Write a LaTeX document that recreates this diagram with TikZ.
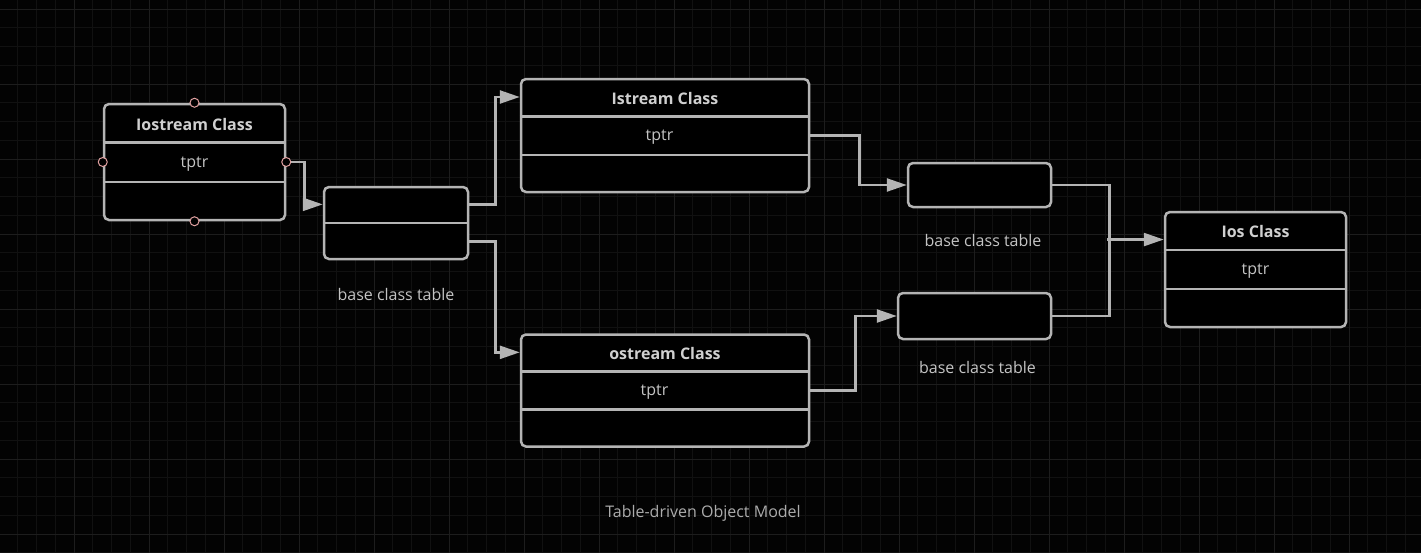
\documentclass[tikz,border=0pt]{standalone}
\usepackage{fontspec}
\setmainfont{Open Sans}
\usepackage{tikz}
\usetikzlibrary{positioning, calc, arrows.meta}
\definecolor{bg}{HTML}{030303}
\definecolor{gridminor}{HTML}{111111}
\definecolor{gridmajor}{HTML}{1D1D1D}
\definecolor{linegray}{HTML}{B4B4B4}
\definecolor{textgray}{HTML}{C4C4C4}
\definecolor{namegray}{HTML}{D0D0D0}
\definecolor{capgray}{HTML}{ACACAC}
\definecolor{portpink}{HTML}{E0A0A0}
\tikzstyle{anno} = [font=\fontsize{16}{19}\selectfont, text=textgray]
\tikzstyle{field} = [font=\fontsize{16}{19}\selectfont, text=textgray, yshift=-2pt]
\tikzstyle{classname} = [font=\fontsize{16}{19}\selectfont\bfseries, text=namegray, yshift=-1.5pt]
\tikzstyle{classbox} = [rectangle, rounded corners=5pt, line width=2.5pt, draw=linegray, fill=black]
\tikzstyle{tablebox} = [rectangle, rounded corners=5pt, line width=2.5pt, draw=linegray, fill=black]
\tikzstyle{divider} = [line width=2.5pt, draw=linegray]
\tikzstyle{port} = [circle, draw=portpink, fill=black, line width=1pt, inner sep=0pt, minimum size=9pt]
\tikzstyle{arrow} = [line width=2.5pt, draw=linegray, -{Triangle[length=20pt,width=13pt]}]

\begin{document}
\begin{tikzpicture}[x=1pt, y=-1pt]
\fill[bg] (0,0) rectangle (1421,552);
\useasboundingbox (0,0) rectangle (1421,552);
\begin{scope}
\clip (0,0) rectangle (1421,552);
\draw[gridminor, line width=1pt, xshift=-1pt, yshift=-9pt] (-40,-40) grid[step=18.75pt] (1480,600);
\draw[gridmajor, line width=1pt, xshift=-1pt, yshift=-9pt] (-80,-80) grid[step=75pt] (1500,640);
\end{scope}

  \node (iostream) [classbox, minimum width=181pt, minimum height=116pt] at (194.5,162) {};
  \node (base1) [tablebox, minimum width=144pt, minimum height=72pt, right of=iostream, xshift=173.05pt, yshift=-61pt] {};
  \node (istream) [classbox, minimum width=288pt, minimum height=113pt, right of=base1, xshift=240.55pt, yshift=87.5pt] {};
  \node (ostream) [classbox, minimum width=288pt, minimum height=112pt, below of=istream, yshift=-226.55pt] {};
  \node (base2) [tablebox, minimum width=143pt, minimum height=44pt, right of=istream, xshift=286.05pt, yshift=-49.5pt] {};
  \node (base3) [tablebox, minimum width=153pt, minimum height=46pt, below of=base2, xshift=-5pt, yshift=-102.55pt] {};
  \node (ios) [classbox, minimum width=181pt, minimum height=115pt, right of=base2, xshift=247.55pt, yshift=-84.5pt] {};

\foreach \c in {iostream, istream, ostream, ios}{
  \draw[divider] ($(\c.north west)!1/3!(\c.south west)$) -- ($(\c.north east)!1/3!(\c.south east)$);
  \draw[divider] ($(\c.north west)!2/3!(\c.south west)$) -- ($(\c.north east)!2/3!(\c.south east)$);
}
\draw[divider] (base1.west) -- (base1.east);

  \node (iostreamT) [classname] at ($(iostream.north)!1/6!(iostream.south)$) {Iostream Class};
  \node (iostreamP) [field] at (iostream.center) {tptr};
  \node (istreamT) [classname] at ($(istream.north)!1/6!(istream.south)$) {Istream Class};
  \node (istreamP) [field, xshift=-5.5pt] at (istream.center) {tptr};
  \node (ostreamT) [classname] at ($(ostream.north)!1/6!(ostream.south)$) {ostream Class};
  \node (ostreamP) [field, xshift=-10.5pt] at (ostream.center) {tptr};
  \node (iosT) [classname] at ($(ios.north)!1/6!(ios.south)$) {Ios Class};
  \node (iosP) [field] at (ios.center) {tptr};

  \node (cap1) [anno, below of=base1, yshift=-42.55pt] {base class table};
  \node (cap2) [anno, below of=base2, xshift=3.5pt, yshift=-26.55pt] {base class table};
  \node (cap3) [anno, below of=base3, xshift=3pt, yshift=-22.55pt] {base class table};
  \node (model) [anno, text=capgray, below of=ostream, xshift=38pt, yshift=-94.05pt] {Table-driven Object Model};

\coordinate (base1in) at ($(base1.north west)!0.25!(base1.south west)$);
\coordinate (base1a) at ($(base1.north east)!0.25!(base1.south east)$);
\coordinate (base1b) at ($(base1.north east)!0.75!(base1.south east)$);
\coordinate (istreamin) at ($(istream.north west)!1/6!(istream.south west)$);
\coordinate (ostreamin) at ($(ostream.north west)!1/6!(ostream.south west)$);
\coordinate (iosin) at ($(ios.north west)!0.245!(ios.south west)$);

  \draw[arrow] (iostream.east) -- ++(18,0) |- (base1in);
  \draw[arrow] (base1a) -- ++(26,0) |- (istreamin);
  \draw[arrow] (base1b) -- ++(26,0) |- (ostreamin);
  \draw[arrow] (istream.east) -- ++(49,0) |- (base2.west);
  \draw[arrow] (ostream.east) -- ++(45,0) |- (base3.west);
  \draw[divider] (base2.east) -- ++(57,0) |- (base3.east);
  \draw[arrow] ([xshift=-57pt]iosin) -- (iosin);

\foreach \a in {north, west, east, south}
  \node (iostream-\a) [port] at (iostream.\a) {};
\end{tikzpicture}
\end{document}
